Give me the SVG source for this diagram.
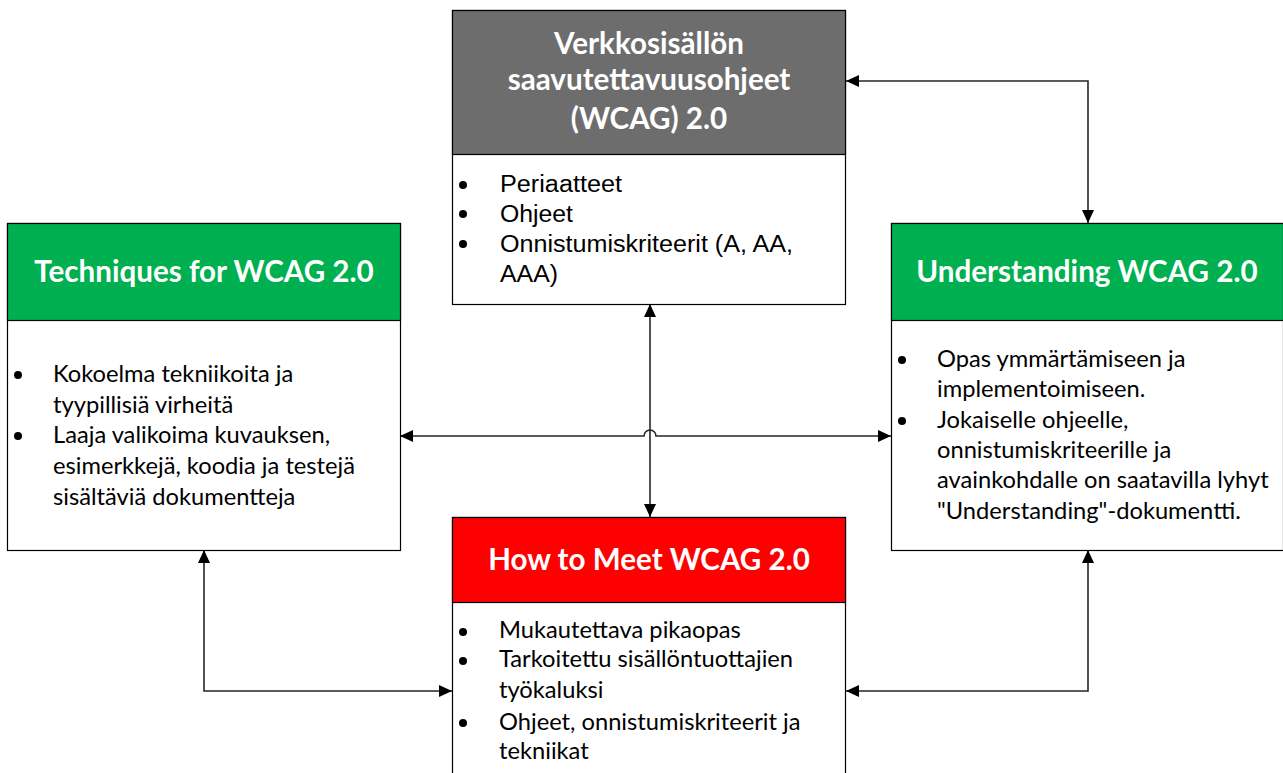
<svg xmlns="http://www.w3.org/2000/svg" width="1283" height="773" viewBox="0 0 1283 773">
<style>
.box{fill:#fff;stroke:#000;stroke-width:1.2}
.hdr{stroke:#000;stroke-width:1.2}
.ht{font-family:Lato,"Open Sans",sans-serif;font-weight:bold;font-size:29.6px;fill:#fff;text-anchor:middle}
.bt{font-family:Lato,"Open Sans",sans-serif;font-size:23.7px;fill:#000}
.at{font-family:"Liberation Sans",Arial,sans-serif;font-size:23px;fill:#000}
.bul{fill:#000}
.con{fill:none;stroke:#262626;stroke-width:1.6;marker-start:url(#ah);marker-end:url(#ah)}
</style>
<defs>
<marker id="ah" viewBox="0 0 13 12" refX="13" refY="6" markerWidth="13" markerHeight="12" markerUnits="userSpaceOnUse" orient="auto-start-reverse">
<path d="M0,0 L13,6 L0,12 z" fill="#000"/>
</marker>
</defs>
<rect width="1283" height="773" fill="#fff"/>

<g id="connectors">
<path class="con" d="M846,81 H1088 V223"/>
<path class="con" d="M204,550 V691 H452"/>
<path class="con" d="M1088,550 V691 H846"/>
<path class="con" d="M650,304 V517"/>
<path class="con" d="M400,436 H644 A6,6 0 0 1 656,436 H891"/>
</g>

<g id="node-wcag">
<rect class="box" x="452.5" y="10.5" width="393" height="294"/>
<rect class="hdr" x="452.5" y="10.5" width="393" height="144" fill="#6d6d6d"/>
<text class="ht" x="649" y="54">Verkkosisällön</text>
<text class="ht" x="649" y="90">saavutettavuusohjeet</text>
<text class="ht" x="649" y="129">(WCAG) 2.0</text>
<circle class="bul" cx="463" cy="185" r="4"/>
<circle class="bul" cx="463" cy="214" r="4"/>
<circle class="bul" cx="463" cy="244" r="4"/>
<text class="at" x="500" y="192" textLength="122" lengthAdjust="spacingAndGlyphs">Periaatteet</text>
<text class="at" x="500" y="222" textLength="73" lengthAdjust="spacingAndGlyphs">Ohjeet</text>
<text class="at" x="500" y="252" textLength="293" lengthAdjust="spacingAndGlyphs">Onnistumiskriteerit (A, AA,</text>
<text class="at" x="500" y="282" textLength="58" lengthAdjust="spacingAndGlyphs">AAA)</text>
</g>

<g id="node-techniques">
<rect class="box" x="7.5" y="223.5" width="393" height="327"/>
<rect class="hdr" x="7.5" y="223.5" width="393" height="97" fill="#00b050"/>
<text class="ht" x="204" y="282">Techniques for WCAG 2.0</text>
<circle class="bul" cx="18" cy="375" r="4"/>
<circle class="bul" cx="18" cy="436" r="4"/>
<text class="bt" x="53" y="382">Kokoelma tekniikoita ja</text>
<text class="bt" x="53" y="413">tyypillisiä virheitä</text>
<text class="bt" x="53" y="443">Laaja valikoima kuvauksen,</text>
<text class="bt" x="53" y="474">esimerkkejä, koodia ja testejä</text>
<text class="bt" x="53" y="505">sisältäviä dokumentteja</text>
</g>

<g id="node-understanding">
<rect class="box" x="891.5" y="223.5" width="392" height="327"/>
<rect class="hdr" x="891.5" y="223.5" width="392" height="97" fill="#00b050"/>
<text class="ht" x="1087" y="282">Understanding WCAG 2.0</text>
<circle class="bul" cx="902" cy="360" r="4"/>
<circle class="bul" cx="902" cy="421" r="4"/>
<text class="bt" x="937" y="367">Opas ymmärtämiseen ja</text>
<text class="bt" x="937" y="397">implementoimiseen.</text>
<text class="bt" x="937" y="428">Jokaiselle ohjeelle,</text>
<text class="bt" x="937" y="458">onnistumiskriteerille ja</text>
<text class="bt" x="937" y="488">avainkohdalle on saatavilla lyhyt</text>
<text class="bt" x="937" y="519">"Understanding"-dokumentti.</text>
</g>

<g id="node-howto">
<rect class="box" x="452.5" y="517.5" width="393" height="280"/>
<rect class="hdr" x="452.5" y="517.5" width="393" height="85" fill="#ff0000"/>
<text class="ht" x="649" y="570">How to Meet WCAG 2.0</text>
<circle class="bul" cx="463" cy="632" r="4"/>
<circle class="bul" cx="463" cy="661" r="4"/>
<circle class="bul" cx="463" cy="723" r="4"/>
<text class="bt" x="499" y="638">Mukautettava pikaopas</text>
<text class="bt" x="499" y="667">Tarkoitettu sisällöntuottajien</text>
<text class="bt" x="499" y="698">työkaluksi</text>
<text class="bt" x="499" y="730">Ohjeet, onnistumiskriteerit ja</text>
<text class="bt" x="499" y="759">tekniikat</text>
</g>
</svg>
